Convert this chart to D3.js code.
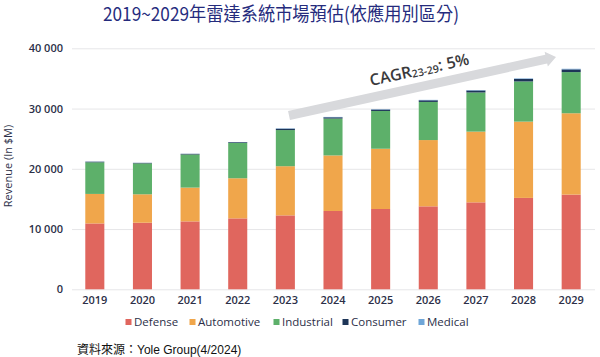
<!DOCTYPE html>
<html><head><meta charset="utf-8">
<script src="https://cdn.jsdelivr.net/npm/d3@7"></script>
<style>
html,body{margin:0;padding:0;background:#fff;}
svg{display:block;}
</style></head>
<body>
<script>
const years = ["2019","2020","2021","2022","2023","2024","2025","2026","2027","2028","2029"];
const defense    = [10930,11050,11270,11770,12270,13000,13330,13770,14430,15170,15720];
const automotive = [4900,4720,5610,6660,8160,9220,10000,11000,11740,12660,13500];
const industrial = [5250,5130,5500,5870,6000,6120,6270,6330,6500,6670,6830];
const consumer   = [100,80,100,120,220,210,230,270,330,420,450];
const medical    = [20,20,20,20,60,60,60,70,70,80,100];
const seriesNames = ["Defense","Automotive","Industrial","Consumer","Medical"];
const seriesColors = ["#e0665e","#f0a64b","#5db06a","#1d3558","#6fa6d8"];
const yTicks = [0,10000,20000,30000,40000];
const titleText = "2019~2029年雷達系統市場預估(依應用別區分)";
const sourceText = "資料來源：Yole Group(4/2024)";

const W = 600, H = 357;
const svg = d3.select("body").append("svg").attr("width", W).attr("height", H);

const x = d3.scaleBand().domain(years).range([71, 595]).paddingInner(0.6).paddingOuter(0.3);
const y = d3.scaleLinear().domain([0, 40000]).range([289.3, 48.3]);

const table = years.map((yr, i) => ({
  year: yr, Defense: defense[i], Automotive: automotive[i], Industrial: industrial[i],
  Consumer: consumer[i], Medical: medical[i]
}));
const stacked = d3.stack().keys(seriesNames)(table);
const color = d3.scaleOrdinal().domain(seriesNames).range(seriesColors);

const sansFont = "'Open Sans', 'Noto Sans', sans-serif";

// title
svg.append("text").attr("x", 281).attr("y", 21).attr("text-anchor", "middle")
  .attr("font-family", "'Noto Sans CJK TC', 'Noto Sans', sans-serif")
  .attr("font-size", 19).attr("font-weight", 400).attr("fill", "#252b7d")
  .attr("textLength", 356).attr("lengthAdjust", "spacingAndGlyphs")
  .text(titleText);

// grid + y axis
const yAxis = d3.axisLeft(y).tickValues(yTicks).tickSize(-(595 - 72)).tickPadding(9)
  .tickFormat(d => d3.format(",")(d).replace(",", " "));
const gy = svg.append("g").attr("transform", "translate(72,0)").call(yAxis);
gy.select(".domain").remove();
gy.selectAll(".tick line").attr("stroke", "#e6e6e8").attr("stroke-width", 1);
gy.selectAll(".tick text").attr("font-family", sansFont).attr("font-size", 11)
  .attr("font-weight", 600).attr("fill", "#2c2f48");

// y title
svg.append("text").attr("transform", "translate(12,166) rotate(-90)")
  .attr("text-anchor", "middle").attr("font-family", sansFont).attr("font-size", 11)
  .attr("font-weight", 500).attr("fill", "#2c2f48").text("Revenue (In $M)");

// bars
svg.append("g").selectAll("g").data(stacked).join("g")
  .attr("fill", d => color(d.key))
  .selectAll("rect").data(d => d).join("rect")
  .attr("x", d => x(d.data.year)).attr("width", x.bandwidth())
  .attr("y", d => y(d[1])).attr("height", d => y(d[0]) - y(d[1]));

// x axis labels
const xAxis = d3.axisBottom(x).tickSize(0).tickPadding(0);
const gx = svg.append("g").attr("transform", "translate(0,296)").call(xAxis);
gx.select(".domain").remove();
gx.selectAll(".tick text").attr("font-family", sansFont).attr("font-size", 11)
  .attr("font-weight", 600).attr("fill", "#2c2f48").attr("dy", "0.71em");

// CAGR arrow annotation
const ax0 = 289, ay0 = 115.5, ax1 = 556, ay1 = 57;
const L = Math.hypot(ax1 - ax0, ay1 - ay0);
const ang = Math.atan2(ay1 - ay0, ax1 - ax0) * 180 / Math.PI;
const ag = svg.append("g").attr("transform", `translate(${ax0},${ay0}) rotate(${ang})`);
const hw = 4.5, hh = 7.5, hl = 10;
ag.append("polygon").attr("fill", "#d8d9dc")
  .attr("points", [[0,-hw],[L-hl,-hw],[L-hl,-hh],[L,0],[L-hl,hh],[L-hl,hw],[0,hw]].map(p => p.join(",")).join(" "));

const ct = svg.append("text").attr("transform", `translate(371,86) rotate(${ang})`)
  .attr("font-family", sansFont).attr("font-weight", 600).attr("fill", "#3a3a3c");
ct.append("tspan").attr("font-size", 16).text("CAGR");
ct.append("tspan").attr("font-size", 10.5).attr("dy", 1).text("23-29");
ct.append("tspan").attr("font-size", 16).attr("dy", -1).text(": 5%");

// legend
const legendX = [125.5, 189.5, 273.5, 342.5, 418.5];
const lg = svg.append("g").selectAll("g").data(seriesNames).join("g")
  .attr("transform", (d, i) => `translate(${legendX[i]},322)`);
lg.append("rect").attr("x", 0).attr("y", -3).attr("width", 6).attr("height", 6)
  .attr("fill", d => color(d));
lg.append("text").attr("x", 8.5).attr("y", 0).attr("dy", "0.35em")
  .attr("font-family", sansFont).attr("font-size", 11.5).attr("font-weight", 500)
  .attr("fill", "#2c2f48").text(d => d);

// source
svg.append("text").attr("x", 77).attr("y", 354)
  .attr("font-family", "'Liberation Sans', 'Noto Sans CJK TC', sans-serif")
  .attr("font-size", 12).attr("fill", "#111").text(sourceText);
</script>
</body></html>
